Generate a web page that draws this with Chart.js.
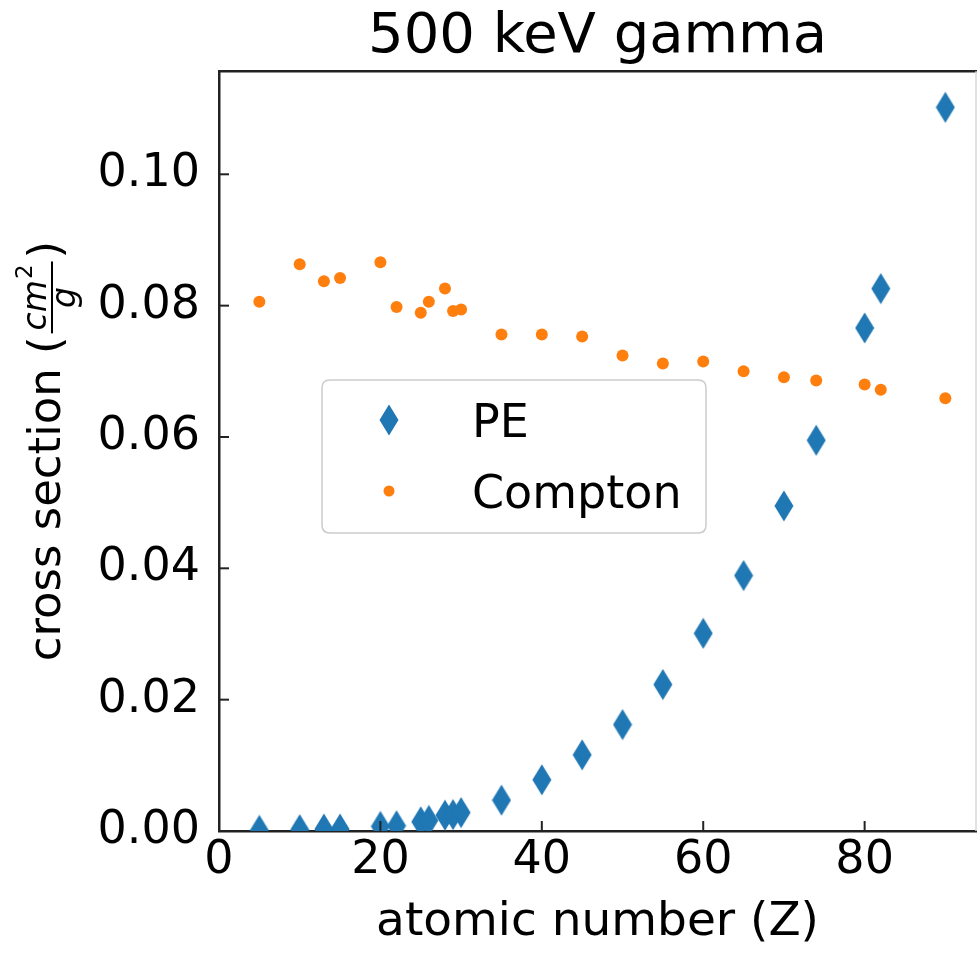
<!DOCTYPE html>
<html><head><meta charset="utf-8">
<script src="https://cdn.jsdelivr.net/npm/chart.js@4/dist/chart.umd.min.js"></script>
<style>html,body{margin:0;padding:0;background:#fff;overflow:hidden}</style>
</head><body>
<canvas id="c" width="977" height="956"></canvas>
<script>
// ---- data ----
const atomicNumbers = [5, 10, 13, 15, 20, 22, 25, 26, 28, 29, 30, 35, 40, 45, 50, 55, 60, 65, 70, 74, 80, 82, 90];
const peValues = [0.0001, 0.0002, 0.0003, 0.0003, 0.0007, 0.0008, 0.0014, 0.0016, 0.0024, 0.0025, 0.0028, 0.0047, 0.0078, 0.0116, 0.0162, 0.0223, 0.0301, 0.0389, 0.0495, 0.0595, 0.0766, 0.0826, 0.1102];
const comptonValues = [0.0806, 0.0863, 0.0837, 0.0842, 0.0866, 0.0798, 0.0789, 0.0806, 0.0826, 0.0792, 0.0794, 0.0756, 0.0756, 0.0753, 0.0724, 0.0712, 0.0715, 0.0700, 0.0691, 0.0686, 0.0680, 0.0672, 0.0659];
const seriesNames = ['PE', 'Compton'];
const xTickValues = [0, 20, 40, 60, 80];
const yTickValues = [0, 0.02, 0.04, 0.06, 0.08, 0.10];
const chartTitle = '500 keV gamma';
const xAxisTitle = 'atomic number (Z)';
const yAxisTitleMain = 'cross section (';
const yAxisFracNum = 'cm';
const yAxisFracSup = '2';
const yAxisFracDen = 'g';
const yAxisTitleEnd = ')';

const FONT = "'DejaVu Sans', sans-serif";
Chart.defaults.font.family = FONT;
Chart.defaults.color = '#000';

function diamondCanvas(w, h, color) {
  const c = document.createElement('canvas');
  c.width = w; c.height = h;
  const g = c.getContext('2d');
  g.fillStyle = color;
  g.beginPath();
  g.moveTo(w / 2, 0.5); g.lineTo(w - 0.5, h / 2); g.lineTo(w / 2, h - 0.5); g.lineTo(0.5, h / 2);
  g.closePath(); g.fill();
  return c;
}
const BLUE = '#1f77b4', ORANGE = '#ff7f0e';
const peMarker = diamondCanvas(20, 32, BLUE);

const framePlugin = {
  id: 'frame',
  afterDraw(chart) {
    const ctx = chart.ctx, a = chart.chartArea;
    const xs = chart.scales.x, ys = chart.scales.y;
    ctx.save();
    // top spine
    ctx.strokeStyle = '#222'; ctx.lineWidth = 2.5;
    ctx.beginPath(); ctx.moveTo(a.left - 1, a.top); ctx.lineTo(a.right + 1, a.top); ctx.stroke();
    // right spine (faint, at image edge)
    ctx.strokeStyle = '#d8d8d8'; ctx.lineWidth = 1.5;
    ctx.beginPath(); ctx.moveTo(a.right, a.top); ctx.lineTo(a.right, a.bottom); ctx.stroke();
    // inward ticks
    ctx.strokeStyle = '#222'; ctx.lineWidth = 2;
    xs.ticks.forEach(t => {
      const px = xs.getPixelForValue(t.value);
      ctx.beginPath(); ctx.moveTo(px, a.bottom); ctx.lineTo(px, a.bottom - 10); ctx.stroke();
    });
    ys.ticks.forEach(t => {
      const py = ys.getPixelForValue(t.value);
      ctx.beginPath(); ctx.moveTo(a.left, py); ctx.lineTo(a.left + 10, py); ctx.stroke();
    });

    // y axis title with fraction
    const mainFont = "45px " + FONT, numFont = "italic 33px " + FONT, supFont = "23px " + FONT;
    ctx.font = mainFont;
    const w1 = ctx.measureText(yAxisTitleMain).width;
    const wEnd = ctx.measureText(yAxisTitleEnd).width;
    ctx.font = numFont;
    const wNum = ctx.measureText(yAxisFracNum).width;
    const wDen = ctx.measureText(yAxisFracDen).width;
    ctx.font = supFont;
    const wSup = ctx.measureText(yAxisFracSup).width;
    const numTotal = wNum + wSup + 1;
    const barW = Math.max(numTotal, wDen) + 6;
    const gap = 3;
    const total = w1 + gap + barW + gap + wEnd;
    const cy = (a.top + a.bottom) / 2;
    ctx.translate(60, cy + total / 2);
    ctx.rotate(-Math.PI / 2);
    ctx.fillStyle = '#000';
    ctx.textBaseline = 'alphabetic'; ctx.textAlign = 'left';
    ctx.font = mainFont; ctx.fillText(yAxisTitleMain, 0, 0);
    const fx = w1 + gap;
    ctx.fillRect(fx, -9, barW, 2);
    const nx = fx + (barW - numTotal) / 2;
    ctx.font = numFont; ctx.fillText(yAxisFracNum, nx, -14);
    ctx.font = supFont; ctx.fillText(yAxisFracSup, nx + wNum + 1, -28);
    ctx.font = numFont; ctx.fillText(yAxisFracDen, fx + (barW - wDen) / 2, 15);
    ctx.font = mainFont; ctx.fillText(yAxisTitleEnd, fx + barW + gap, 0);
    ctx.restore();

    // legend
    ctx.save();
    const lx = 322, ly = 380, lw = 384, lh = 153, r = 8;
    ctx.beginPath();
    ctx.moveTo(lx + r, ly); ctx.lineTo(lx + lw - r, ly); ctx.quadraticCurveTo(lx + lw, ly, lx + lw, ly + r);
    ctx.lineTo(lx + lw, ly + lh - r); ctx.quadraticCurveTo(lx + lw, ly + lh, lx + lw - r, ly + lh);
    ctx.lineTo(lx + r, ly + lh); ctx.quadraticCurveTo(lx, ly + lh, lx, ly + lh - r);
    ctx.lineTo(lx, ly + r); ctx.quadraticCurveTo(lx, ly, lx + r, ly);
    ctx.closePath();
    ctx.fillStyle = 'rgba(255,255,255,0.8)'; ctx.fill();
    ctx.strokeStyle = '#cccccc'; ctx.lineWidth = 1.5; ctx.stroke();
    const rows = [420, 491];
    chart.data.datasets.forEach((ds, i) => {
      const yy = rows[i];
      if (ds.pointStyle instanceof HTMLCanvasElement) {
        ctx.drawImage(ds.pointStyle, 389 - ds.pointStyle.width / 2, yy - ds.pointStyle.height / 2);
      } else {
        ctx.beginPath(); ctx.arc(389, yy, ds.pointRadius - 0.5, 0, Math.PI * 2);
        ctx.fillStyle = ds.backgroundColor; ctx.fill();
      }
      ctx.fillStyle = '#000'; ctx.font = "46px " + FONT;
      ctx.textBaseline = 'alphabetic'; ctx.textAlign = 'left';
      ctx.fillText(ds.label, 472, yy + 16.5);
    });
    ctx.restore();
  }
};

const chart = new Chart(document.getElementById('c'), {
  type: 'scatter',
  data: {
    datasets: [
      {
        label: seriesNames[0],
        data: atomicNumbers.map((z, i) => ({ x: z, y: peValues[i] })),
        pointStyle: peMarker, pointRadius: 16, pointHoverRadius: 16,
        backgroundColor: BLUE, borderWidth: 0, order: 1, clip: 0
      },
      {
        label: seriesNames[1],
        data: atomicNumbers.map((z, i) => ({ x: z, y: comptonValues[i] })),
        pointStyle: 'circle', pointRadius: 6, pointHoverRadius: 6,
        backgroundColor: ORANGE, borderWidth: 0, order: 0, clip: 0
      }
    ]
  },
  options: {
    responsive: false, animation: false, devicePixelRatio: 1,
    layout: { autoPadding: false, padding: { left: 0, right: 1, top: 0, bottom: 0 } },
    plugins: {
      legend: { display: false },
      tooltip: { enabled: false },
      title: { display: true, fullSize: false, text: chartTitle, font: { size: 56, weight: 'normal' }, color: '#000', padding: { top: 4, bottom: 0 } }
    },
    scales: {
      x: {
        type: 'linear', min: 0, max: 93.8,
        afterBuildTicks: s => { s.ticks = xTickValues.map(v => ({ value: v })); },
        afterFit: s => { s.height = 125; s.paddingLeft = 0; s.paddingRight = 0; },
        ticks: { font: { size: 46 }, color: '#000', padding: 2, maxRotation: 0, autoSkip: false },
        grid: { display: false, drawTicks: false },
        border: { display: true, color: '#222', width: 2.5 },
        title: { display: true, text: xAxisTitle, font: { size: 47 }, color: '#000', padding: { top: 0, bottom: 5 } }
      },
      y: {
        type: 'linear', min: 0, max: 0.1157,
        afterBuildTicks: s => { s.ticks = yTickValues.map(v => ({ value: v })); },
        afterFit: s => { s.width = 219; s.paddingTop = 0; s.paddingBottom = 0; },
        ticks: { font: { size: 46 }, color: '#000', padding: 19, callback: v => v.toFixed(2) },
        grid: { display: false, drawTicks: false },
        border: { display: true, color: '#222', width: 2.5 }
      }
    }
  },
  plugins: [framePlugin]
});
</script>
</body></html>
